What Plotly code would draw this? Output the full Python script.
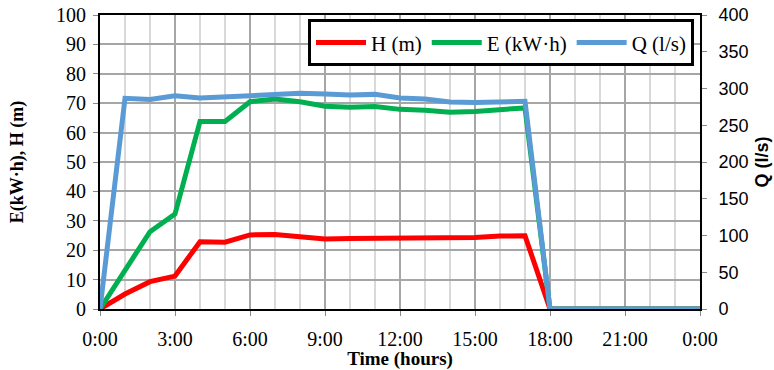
import plotly.graph_objects as go

hours = list(range(0, 25))
H_m = [0, 5.1, 9.3, 11.2, 22.9, 22.7, 25.2, 25.3, 24.6, 23.8, 24.0, 24.0, 24.0, 24.0,
       24.1, 24.3, 24.8, 24.9, 0, 0, 0, 0, 0, 0, 0]
E_kwh = [0, 13.0, 26.3, 32.3, 63.8, 63.8, 70.5, 71.4, 70.5, 69.0, 68.6, 68.9, 67.9, 67.6,
         66.9, 67.2, 67.7, 68.4, 0, 0, 0, 0, 0, 0, 0]
Q_ls = [0, 286.7, 285.0, 290.0, 287.0, 289.0, 289.5, 292.0, 293.5, 292.5, 291.0, 292.0, 287.0, 285.7,
        281.6, 281.0, 281.0, 282.6, 0, 0, 0, 0, 0, 0, 0]
x_tickvals = [0, 3, 6, 9, 12, 15, 18, 21, 24]
x_ticktext = ["0:00", "3:00", "6:00", "9:00", "12:00", "15:00", "18:00", "21:00", "0:00"]

SERIF = "Liberation Serif"
SANS = "Liberation Sans"

fig = go.Figure()
fig.add_trace(go.Scatter(x=hours, y=H_m, name="H (m)", mode="lines",
                         line=dict(color="#ff0000", width=5)))
fig.add_trace(go.Scatter(x=hours, y=E_kwh, name="E (kW·h)", mode="lines",
                         line=dict(color="#00b050", width=5)))
fig.add_trace(go.Scatter(x=hours, y=Q_ls, name="Q (l/s)", mode="lines", yaxis="y2",
                         line=dict(color="#5b9bd5", width=5)))

fig.update_layout(
    width=774, height=370,
    margin=dict(l=100, r=74, t=15, b=61),
    paper_bgcolor="white", plot_bgcolor="white",
    font=dict(family=SERIF, size=20, color="black"),
    showlegend=True,
    legend=dict(orientation="h", x=0.99, xanchor="right", y=0.985, yanchor="top",
                bgcolor="white", bordercolor="black", borderwidth=3,
                font=dict(family=SERIF, size=21, color="black"),
                itemwidth=50,
                traceorder="normal", tracegroupgap=0),
    xaxis=dict(range=[0, 24], tickmode="array", tickvals=x_tickvals, ticktext=x_ticktext,
               automargin=False,
               showgrid=True, gridcolor="#a6a6a6", gridwidth=1.5,
               minor=dict(tickmode="linear", tick0=0, dtick=1, showgrid=True,
                          gridcolor="#d9d9d9", gridwidth=1.5, ticks=""),
               showline=True, linecolor="black", linewidth=2, mirror=True,
               ticks="outside", ticklen=5, tickcolor="#888888",
               tickfont=dict(family=SERIF, size=20), ticklabelstandoff=6,
               zeroline=False,
               title=dict(text="<b>Time (hours)</b>", font=dict(family=SERIF, size=19),
                          standoff=0)),
    yaxis=dict(range=[0, 100], dtick=10, showgrid=True, gridcolor="#a6a6a6", gridwidth=1.5,
               automargin=False,
               showline=True, linecolor="black", linewidth=2, mirror=True,
               ticks="outside", ticklen=5, tickcolor="#888888",
               tickfont=dict(family=SERIF, size=20), ticklabelstandoff=3, zeroline=False,
               title=dict(text="<b>E(kW·h), H (m)</b>", font=dict(family=SERIF, size=18),
                          standoff=28)),
    yaxis2=dict(range=[0, 400], dtick=50, overlaying="y", side="right", showgrid=False,
                automargin=False,
                showline=True, linecolor="black", linewidth=2,
                ticks="outside", ticklen=5, tickcolor="#888888",
                tickfont=dict(family=SANS, size=18), ticklabelstandoff=8, zeroline=False,
                title=dict(text="<b>Q (l/s)</b>", font=dict(family=SANS, size=18),
                           standoff=8)),
)

fig.write_html("out.html")
